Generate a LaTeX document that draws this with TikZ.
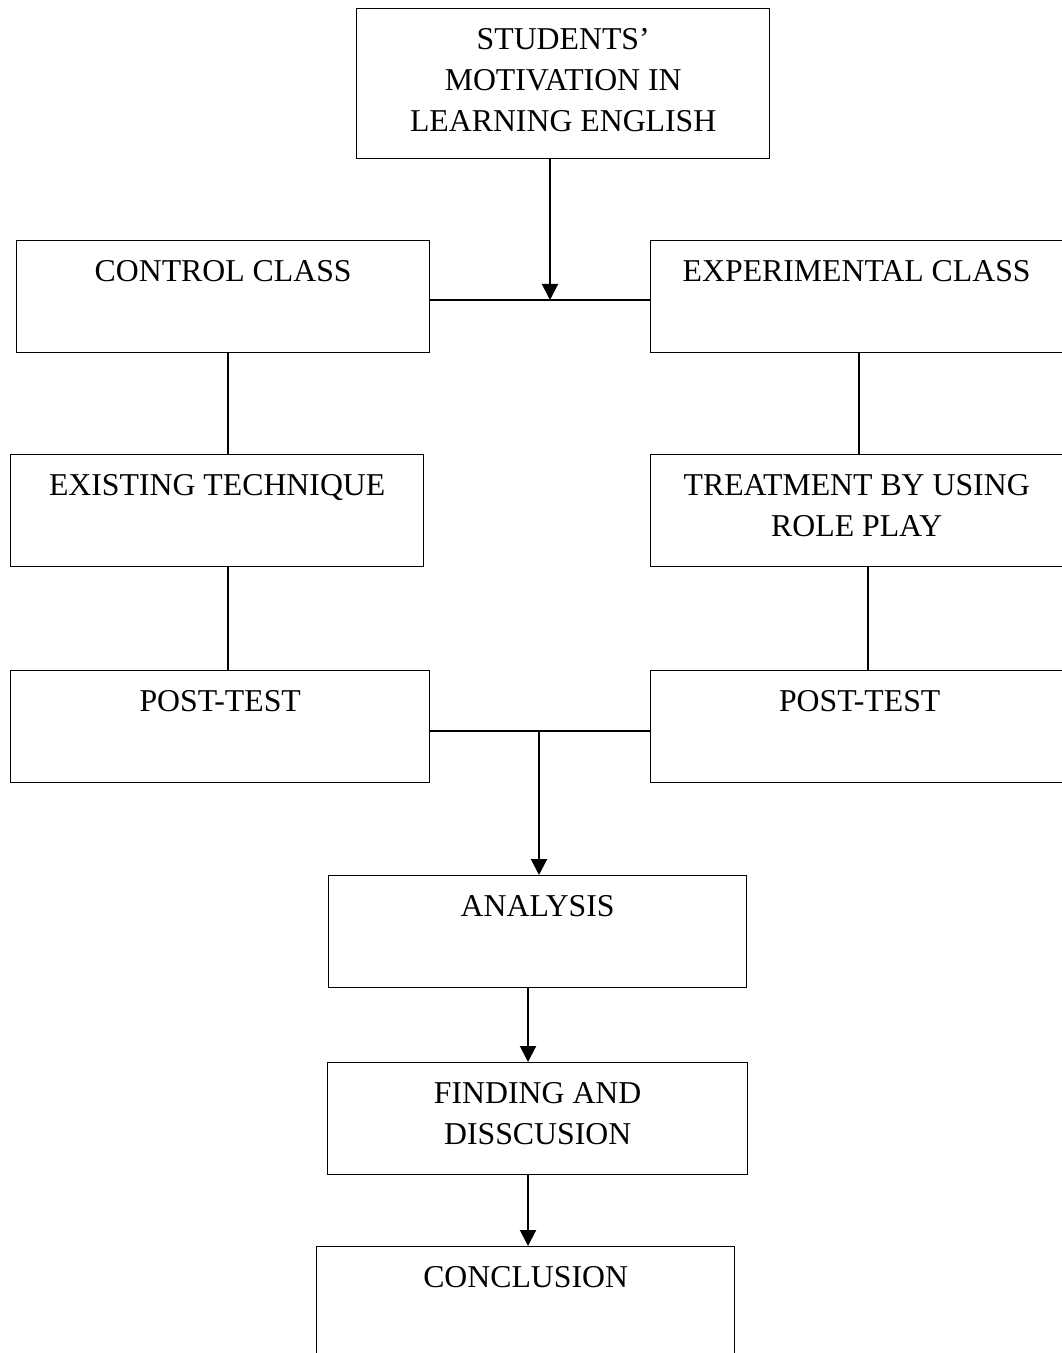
\documentclass[tikz,border=0pt]{standalone}
\usepackage{fontspec}
\setmainfont{Liberation Serif}
\usetikzlibrary{arrows.meta}

\tikzset{
  box/.style={draw, line width=0.9pt, anchor=north west, inner sep=0pt, align=center,
    font=\fontsize{22.6}{29.16}\selectfont, text height=1.025cm, text depth=1.775cm},
  twoline/.style={text height=2.05cm, text depth=0.75cm},
  link/.style={line width=0.9pt},
  flow/.style={line width=1.4pt, -{Triangle[length=0.4cm,width=0.4cm]}}
}

\begin{document}
\begin{tikzpicture}[x=0.025cm, y=-0.025cm]
\useasboundingbox (0,0) rectangle (1061,1353);

% Boxes
\node[box, minimum width=10.325cm, text height=3.075cm, text depth=0.675cm] (top) at (356,8)
  {STUDENTS’\\MOTIVATION IN\\LEARNING ENGLISH};
\node[box, minimum width=10.325cm] (control) at (16,240) {CONTROL CLASS};
\node[box, minimum width=10.3cm] (exp) at (650,240) {EXPERIMENTAL CLASS};
\node[box, minimum width=10.325cm] (existing) at (10,454) {EXISTING TECHNIQUE};
\node[box, twoline, minimum width=10.3cm] (treat) at (650,454) {TREATMENT BY USING\\ROLE PLAY};
\node[box, minimum width=10.475cm] (postL) at (10,670) {POST-TEST};
\node[box, minimum width=10.45cm] (postR) at (650,670) {POST-TEST};
\node[box, minimum width=10.45cm] (analysis) at (328,875) {ANALYSIS};
\node[box, twoline, minimum width=10.5cm] (finding) at (327,1062) {FINDING AND\\DISSCUSION};
\node[box, minimum width=10.45cm, text depth=1.975cm] (concl) at (316,1246) {CONCLUSION};

% Joints
\coordinate (split) at (550,300);
\coordinate (merge) at (539,731);
\coordinate (cl) at (228,0);
\coordinate (cr) at (859,0);
\coordinate (tr) at (868,0);
\coordinate (mid) at (528,0);

% Connectors
\draw[flow] (top.south -| split) -- (split);
\draw[link] (control.east |- split) -- (exp.west |- split);
\draw[link] (control.south -| cl) -- (existing.north -| cl);
\draw[link] (existing.south -| cl) -- (postL.north -| cl);
\draw[link] (exp.south -| cr) -- (treat.north -| cr);
\draw[link] (treat.south -| tr) -- (postR.north -| tr);
\draw[link] (postL.east |- merge) -- (postR.west |- merge);
\draw[flow] (merge) -- (analysis.north -| merge);
\draw[flow] (analysis.south -| mid) -- (finding.north -| mid);
\draw[flow] (finding.south -| mid) -- (concl.north -| mid);

\end{tikzpicture}
\end{document}
